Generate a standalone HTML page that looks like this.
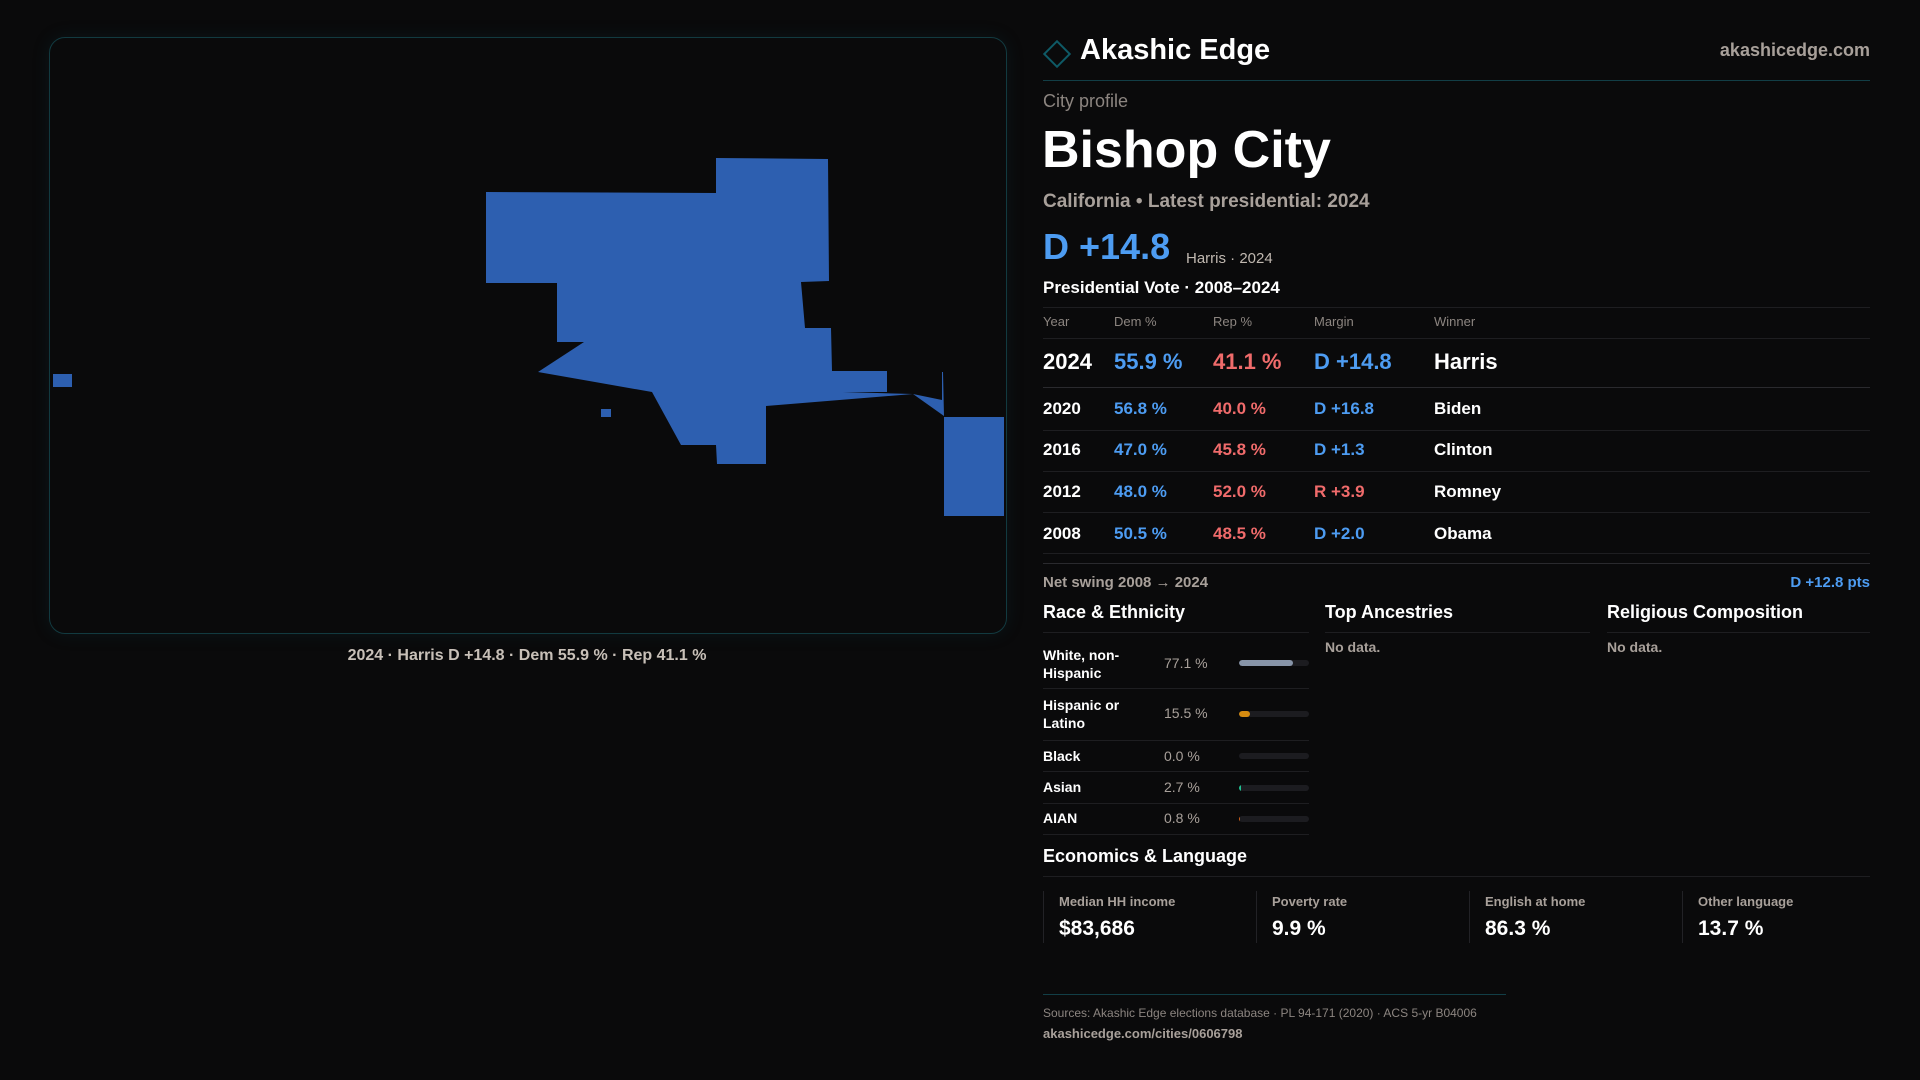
<!DOCTYPE html>
<html><head><meta charset="utf-8"><style>
*{margin:0;padding:0;box-sizing:border-box}
body{width:1920px;height:1080px;background:#0a0a0b;font-family:"Liberation Sans",sans-serif;color:#fff;position:relative;overflow:hidden}
.a{position:absolute;white-space:nowrap;line-height:1}
.g{color:#a8a09a}
.b{color:#4d9cf2}.r{color:#f06b6b}
.hl{position:absolute;height:1px;background:#1e1e21}
.bar{position:absolute;left:1239px;width:70px;height:6px;border-radius:3px;background:#1c1c20;overflow:hidden}
.bar i{display:block;height:100%;border-radius:3px}
.vl{position:absolute;width:1px;background:#222226;top:891px;height:52px}
</style></head><body>
<div style="position:absolute;left:49px;top:37px;width:958px;height:597px;border:1px solid #123a40;border-radius:16px;box-shadow:0 0 18px rgba(20,90,100,0.15)"></div>
<svg style="position:absolute;left:0;top:0" width="1020" height="700">
<g fill="#2d5fb0">
<polygon points="486,192 716,193 716,158 828,159 829,281 801,282 805,328 831,328 832,371 887,371 887,392 843,392 913,394 942,400 942,372 943,372 944,416 913,394 766,406 766,464 717,464 716,445 681,445 652,392 538,372 584,342 557,342 557,283 486,283"/>
<rect x="944" y="417" width="60" height="99"/>
<rect x="53" y="374" width="19" height="13"/>
<rect x="601" y="409" width="10" height="8"/>
</g></svg>
<div class="a" style="left:527px;top:648px;transform:translateX(-50%);font-size:16px;font-weight:bold;color:#c8c0b8">2024 · Harris D +14.8 · Dem 55.9 % · Rep 41.1 %</div>

<div style="position:absolute;left:1047px;top:44px;width:20px;height:20px;border:2px solid #0e5a66;transform:rotate(45deg)"></div>
<div class="a" style="left:1080px;top:36px;font-size:29px;font-weight:bold">Akashic Edge</div>
<div class="a g" style="right:50px;top:41px;font-size:18px;font-weight:bold">akashicedge.com</div>
<div class="hl" style="left:1043px;top:80px;width:827px;background:#123e46"></div>
<div class="a g" style="left:1043px;top:92px;font-size:18px;color:#8c8580">City profile</div>
<div class="a" style="left:1042px;top:124px;font-size:52px;font-weight:bold">Bishop City</div>
<div class="a g" style="left:1043px;top:192px;font-size:19px;font-weight:bold">California • Latest presidential: 2024</div>
<div class="a b" style="left:1043px;top:229px;font-size:36px;font-weight:bold">D +14.8</div>
<div class="a g" style="left:1186px;top:251px;font-size:15px;color:#c0b8b0">Harris · 2024</div>
<div class="a" style="left:1043px;top:279px;font-size:17px;font-weight:bold">Presidential Vote · 2008–2024</div>
<div class="hl" style="left:1043px;top:307px;width:827px"></div>
<div class="a g" style="left:1043px;top:315px;font-size:13px;color:#8c8580">Year</div>
<div class="a g" style="left:1114px;top:315px;font-size:13px;color:#8c8580">Dem %</div>
<div class="a g" style="left:1213px;top:315px;font-size:13px;color:#8c8580">Rep %</div>
<div class="a g" style="left:1314px;top:315px;font-size:13px;color:#8c8580">Margin</div>
<div class="a g" style="left:1434px;top:315px;font-size:13px;color:#8c8580">Winner</div>
<div class="hl" style="left:1043px;top:338px;width:827px"></div>
<div class="a" style="left:1043px;top:351px;font-size:22px;font-weight:bold">2024</div>
<div class="a b" style="left:1114px;top:351px;font-size:22px;font-weight:bold">55.9 %</div>
<div class="a r" style="left:1213px;top:351px;font-size:22px;font-weight:bold">41.1 %</div>
<div class="a b" style="left:1314px;top:351px;font-size:22px;font-weight:bold">D +14.8</div>
<div class="a" style="left:1434px;top:351px;font-size:22px;font-weight:bold">Harris</div>
<div class="hl" style="left:1043px;top:387px;width:827px;background:#2a2a2e"></div>
<div class="a" style="left:1043px;top:400px;font-size:17px;font-weight:bold">2020</div>
<div class="a b" style="left:1114px;top:400px;font-size:17px;font-weight:bold">56.8 %</div>
<div class="a r" style="left:1213px;top:400px;font-size:17px;font-weight:bold">40.0 %</div>
<div class="a b" style="left:1314px;top:400px;font-size:17px;font-weight:bold">D +16.8</div>
<div class="a" style="left:1434px;top:400px;font-size:17px;font-weight:bold">Biden</div>
<div class="hl" style="left:1043px;top:430px;width:827px"></div>
<div class="a" style="left:1043px;top:441px;font-size:17px;font-weight:bold">2016</div>
<div class="a b" style="left:1114px;top:441px;font-size:17px;font-weight:bold">47.0 %</div>
<div class="a r" style="left:1213px;top:441px;font-size:17px;font-weight:bold">45.8 %</div>
<div class="a b" style="left:1314px;top:441px;font-size:17px;font-weight:bold">D +1.3</div>
<div class="a" style="left:1434px;top:441px;font-size:17px;font-weight:bold">Clinton</div>
<div class="hl" style="left:1043px;top:471px;width:827px"></div>
<div class="a" style="left:1043px;top:483px;font-size:17px;font-weight:bold">2012</div>
<div class="a b" style="left:1114px;top:483px;font-size:17px;font-weight:bold">48.0 %</div>
<div class="a r" style="left:1213px;top:483px;font-size:17px;font-weight:bold">52.0 %</div>
<div class="a r" style="left:1314px;top:483px;font-size:17px;font-weight:bold">R +3.9</div>
<div class="a" style="left:1434px;top:483px;font-size:17px;font-weight:bold">Romney</div>
<div class="hl" style="left:1043px;top:512px;width:827px"></div>
<div class="a" style="left:1043px;top:525px;font-size:17px;font-weight:bold">2008</div>
<div class="a b" style="left:1114px;top:525px;font-size:17px;font-weight:bold">50.5 %</div>
<div class="a r" style="left:1213px;top:525px;font-size:17px;font-weight:bold">48.5 %</div>
<div class="a b" style="left:1314px;top:525px;font-size:17px;font-weight:bold">D +2.0</div>
<div class="a" style="left:1434px;top:525px;font-size:17px;font-weight:bold">Obama</div>
<div class="hl" style="left:1043px;top:553px;width:827px"></div>
<div class="hl" style="left:1043px;top:563px;width:827px;background:#2a2a2e"></div>
<div class="a g" style="left:1043px;top:575px;font-size:15px;font-weight:bold">Net swing 2008 → 2024</div>
<div class="a b" style="right:50px;top:575px;font-size:15px;font-weight:bold">D +12.8 pts</div>

<div class="a" style="left:1043px;top:603px;font-size:18px;font-weight:bold">Race &amp; Ethnicity</div>
<div class="a" style="left:1325px;top:603px;font-size:18px;font-weight:bold">Top Ancestries</div>
<div class="a" style="left:1607px;top:603px;font-size:18px;font-weight:bold">Religious Composition</div>
<div class="hl" style="left:1043px;top:632px;width:266px"></div>
<div class="hl" style="left:1325px;top:632px;width:265px"></div>
<div class="hl" style="left:1607px;top:632px;width:263px"></div>
<div class="a g" style="left:1325px;top:640px;font-size:14px;font-weight:bold">No data.</div>
<div class="a g" style="left:1607px;top:640px;font-size:14px;font-weight:bold">No data.</div>

<div class="a" style="left:1043px;top:646px;font-size:14px;font-weight:bold;line-height:18px">White, non-<br>Hispanic</div>
<div class="a g" style="left:1164px;top:656px;font-size:14px">77.1 %</div>
<div class="bar" style="top:660px"><i style="width:77%;background:#8794a8"></i></div>
<div class="hl" style="left:1043px;top:688px;width:266px"></div>
<div class="a" style="left:1043px;top:696px;font-size:14px;font-weight:bold;line-height:18px">Hispanic or<br>Latino</div>
<div class="a g" style="left:1164px;top:706px;font-size:14px">15.5 %</div>
<div class="bar" style="top:711px"><i style="width:15.5%;background:#d68b10"></i></div>
<div class="hl" style="left:1043px;top:740px;width:266px"></div>
<div class="a" style="left:1043px;top:749px;font-size:14px;font-weight:bold">Black</div>
<div class="a g" style="left:1164px;top:749px;font-size:14px">0.0 %</div>
<div class="bar" style="top:753px"></div>
<div class="hl" style="left:1043px;top:771px;width:266px"></div>
<div class="a" style="left:1043px;top:780px;font-size:14px;font-weight:bold">Asian</div>
<div class="a g" style="left:1164px;top:780px;font-size:14px">2.7 %</div>
<div class="bar" style="top:785px"><i style="width:2.7%;background:#20c090;border-radius:0"></i></div>
<div class="hl" style="left:1043px;top:803px;width:266px"></div>
<div class="a" style="left:1043px;top:811px;font-size:14px;font-weight:bold">AIAN</div>
<div class="a g" style="left:1164px;top:811px;font-size:14px">0.8 %</div>
<div class="bar" style="top:816px"><i style="width:1.2%;background:#d0601a;border-radius:0"></i></div>
<div class="hl" style="left:1043px;top:834px;width:266px"></div>

<div class="a" style="left:1043px;top:847px;font-size:18px;font-weight:bold">Economics &amp; Language</div>
<div class="hl" style="left:1043px;top:876px;width:827px"></div>
<div class="vl" style="left:1043px"></div><div class="vl" style="left:1256px"></div><div class="vl" style="left:1469px"></div><div class="vl" style="left:1682px"></div>
<div class="a g" style="left:1059px;top:895px;font-size:13px;font-weight:bold">Median HH income</div>
<div class="a g" style="left:1272px;top:895px;font-size:13px;font-weight:bold">Poverty rate</div>
<div class="a g" style="left:1485px;top:895px;font-size:13px;font-weight:bold">English at home</div>
<div class="a g" style="left:1698px;top:895px;font-size:13px;font-weight:bold">Other language</div>
<div class="a" style="left:1059px;top:918px;font-size:21px;font-weight:bold">$83,686</div>
<div class="a" style="left:1272px;top:918px;font-size:21px;font-weight:bold">9.9 %</div>
<div class="a" style="left:1485px;top:918px;font-size:21px;font-weight:bold">86.3 %</div>
<div class="a" style="left:1698px;top:918px;font-size:21px;font-weight:bold">13.7 %</div>

<div class="hl" style="left:1043px;top:994px;width:463px;background:#123e46"></div>
<div class="a g" style="left:1043px;top:1007px;font-size:12px;color:#8c8580">Sources: Akashic Edge elections database · PL 94-171 (2020) · ACS 5-yr B04006</div>
<div class="a g" style="left:1043px;top:1027px;font-size:13px;font-weight:bold">akashicedge.com/cities/0606798</div>
</body></html>
